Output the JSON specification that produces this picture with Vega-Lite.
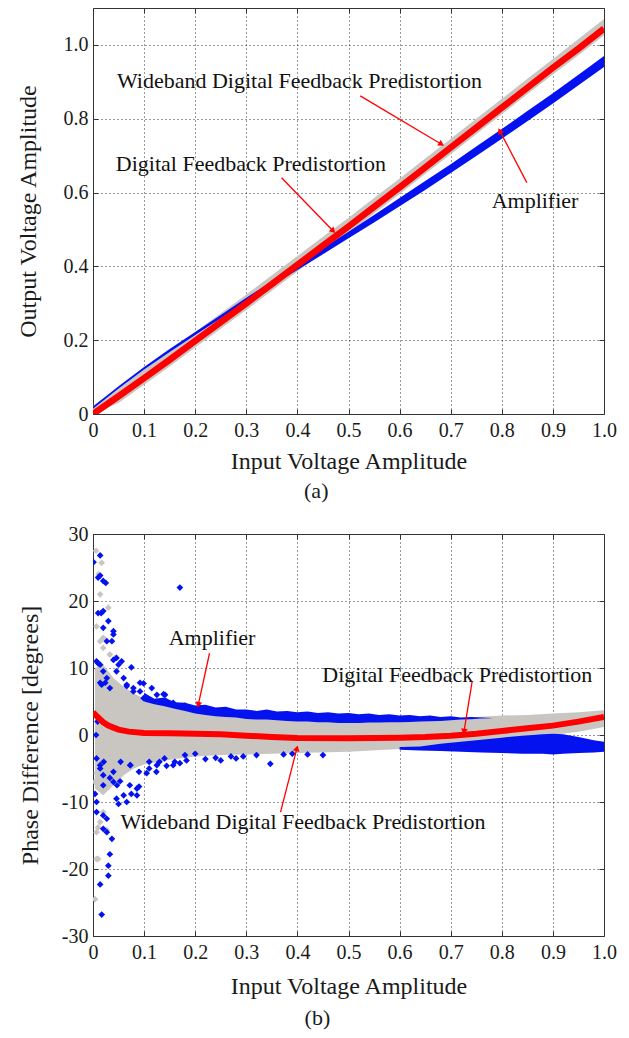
{
  "$schema": "https://vega.github.io/schema/vega-lite/v6.json",
  "padding": {"left": 15, "top": 7, "right": 10, "bottom": 5},
  "background": "white",
  "config": {
    "font": "Liberation Serif",
    "view": {"stroke": "#333333", "strokeWidth": 1},
    "axis": {
      "domain": false, "grid": true, "gridColor": "#333333", "gridDash": [1, 3], "gridWidth": 1,
      "ticks": true, "tickColor": "#333333", "tickSize": -5, "labelFlush": false, "labelOverlap": false,
      "labelFont": "Liberation Serif", "labelFontSize": 20, "labelColor": "#1a1a1a", "labelPadding": 10,
      "titleFont": "Liberation Serif", "titleFontSize": 24, "titleFontWeight": "normal", "titleColor": "#1a1a1a"
    },
    "axisX": {"labelPadding": 11},
    "title": {"font": "Liberation Serif", "fontSize": 22, "fontWeight": "normal", "color": "#1a1a1a", "orient": "bottom", "frame": "bounds", "anchor": "middle", "offset": 8}
  },
  "datasets": {
    "topGray": [
      {"x": 0, "lo": 0, "hi": 0.022}, {"x": 0.05, "lo": 0.03, "hi": 0.072}, {"x": 0.1, "lo": 0.079, "hi": 0.121},
      {"x": 0.15, "lo": 0.129, "hi": 0.171}, {"x": 0.2, "lo": 0.18, "hi": 0.222}, {"x": 0.25, "lo": 0.231, "hi": 0.273},
      {"x": 0.3, "lo": 0.282, "hi": 0.324}, {"x": 0.35, "lo": 0.334, "hi": 0.376}, {"x": 0.4, "lo": 0.386, "hi": 0.428},
      {"x": 0.45, "lo": 0.438, "hi": 0.48}, {"x": 0.5, "lo": 0.49, "hi": 0.532}, {"x": 0.55, "lo": 0.543, "hi": 0.585},
      {"x": 0.6, "lo": 0.596, "hi": 0.638}, {"x": 0.65, "lo": 0.65, "hi": 0.692}, {"x": 0.7, "lo": 0.704, "hi": 0.746},
      {"x": 0.75, "lo": 0.758, "hi": 0.8}, {"x": 0.8, "lo": 0.812, "hi": 0.854}, {"x": 0.85, "lo": 0.866, "hi": 0.908},
      {"x": 0.9, "lo": 0.92, "hi": 0.962}, {"x": 0.95, "lo": 0.972, "hi": 1.016}, {"x": 1.0, "lo": 1.026, "hi": 1.07}
    ],
    "topBlue": [
      {"x": 0, "lo": 0.014, "hi": 0.02}, {"x": 0.05, "lo": 0.069, "hi": 0.075}, {"x": 0.1, "lo": 0.1205, "hi": 0.1275},
      {"x": 0.15, "lo": 0.168, "hi": 0.176}, {"x": 0.2, "lo": 0.214, "hi": 0.222}, {"x": 0.25, "lo": 0.2595, "hi": 0.2685},
      {"x": 0.3, "lo": 0.305, "hi": 0.315}, {"x": 0.35, "lo": 0.348, "hi": 0.36}, {"x": 0.4, "lo": 0.39, "hi": 0.404},
      {"x": 0.45, "lo": 0.433, "hi": 0.449}, {"x": 0.5, "lo": 0.476, "hi": 0.494}, {"x": 0.55, "lo": 0.519, "hi": 0.539},
      {"x": 0.6, "lo": 0.563, "hi": 0.585}, {"x": 0.65, "lo": 0.607, "hi": 0.631}, {"x": 0.7, "lo": 0.653, "hi": 0.677},
      {"x": 0.75, "lo": 0.699, "hi": 0.725}, {"x": 0.8, "lo": 0.746, "hi": 0.772}, {"x": 0.85, "lo": 0.793, "hi": 0.821},
      {"x": 0.9, "lo": 0.841, "hi": 0.869}, {"x": 0.95, "lo": 0.891, "hi": 0.919}, {"x": 1.0, "lo": 0.94, "hi": 0.97}
    ],
    "topRed": [
      {"x": 0, "y": 0.0}, {"x": 0.05, "y": 0.048}, {"x": 0.1, "y": 0.097}, {"x": 0.15, "y": 0.147}, {"x": 0.2, "y": 0.198},
      {"x": 0.25, "y": 0.249}, {"x": 0.3, "y": 0.3}, {"x": 0.35, "y": 0.352}, {"x": 0.4, "y": 0.404}, {"x": 0.45, "y": 0.456},
      {"x": 0.5, "y": 0.508}, {"x": 0.55, "y": 0.561}, {"x": 0.6, "y": 0.614}, {"x": 0.65, "y": 0.668}, {"x": 0.7, "y": 0.722},
      {"x": 0.75, "y": 0.776}, {"x": 0.8, "y": 0.83}, {"x": 0.85, "y": 0.884}, {"x": 0.9, "y": 0.938}, {"x": 0.95, "y": 0.99},
      {"x": 1.0, "y": 1.044}
    ],
    "botGray": [
      {"x": 0.004, "lo": -8, "hi": 10}, {"x": 0.02, "lo": -9, "hi": 10.5}, {"x": 0.04, "lo": -7.5, "hi": 8.5},
      {"x": 0.06, "lo": -6, "hi": 7.2}, {"x": 0.08, "lo": -5, "hi": 6.2}, {"x": 0.1, "lo": -4.4, "hi": 5.4},
      {"x": 0.13, "lo": -4.0, "hi": 4.7}, {"x": 0.16, "lo": -3.6, "hi": 4.2}, {"x": 0.2, "lo": -3.2, "hi": 3.5},
      {"x": 0.25, "lo": -3.0, "hi": 3.0}, {"x": 0.3, "lo": -2.9, "hi": 2.7}, {"x": 0.4, "lo": -2.7, "hi": 2.3},
      {"x": 0.5, "lo": -2.5, "hi": 2.1}, {"x": 0.6, "lo": -2.1, "hi": 2.2}, {"x": 0.65, "lo": -1.9, "hi": 2.3},
      {"x": 0.7, "lo": -1.6, "hi": 2.5}, {"x": 0.75, "lo": -1.2, "hi": 2.7}, {"x": 0.8, "lo": -0.9, "hi": 2.9},
      {"x": 0.85, "lo": -0.5, "hi": 3.0}, {"x": 0.9, "lo": 0.0, "hi": 3.2}, {"x": 0.95, "lo": 0.5, "hi": 3.4},
      {"x": 1.0, "lo": 1.2, "hi": 3.7}
    ],
    "botGrayPts": [
      {"x": 0.006, "y": 27.5}, {"x": 0.017, "y": 25.7}, {"x": 0.011, "y": 24}, {"x": 0.014, "y": 21}, {"x": 0.03, "y": 19},
      {"x": 0.007, "y": 16.2}, {"x": 0.014, "y": 14}, {"x": 0.02, "y": 13}, {"x": 0.033, "y": 12}, {"x": 0.043, "y": 11.5},
      {"x": 0.02, "y": 14.5}, {"x": 0.01, "y": -13.8}, {"x": 0.007, "y": -14.5}, {"x": 0.007, "y": -18.5},
      {"x": 0.004, "y": -24.5}, {"x": 0.014, "y": -13}, {"x": 0.02, "y": -11.5}, {"x": 0.004, "y": -7}, {"x": 0.007, "y": -5.7},
      {"x": 0.027, "y": -14.2}, {"x": 0.01, "y": -18.5}
    ],
    "botBlueUp": [
      {"x": 0.1, "lo": 5.0, "hi": 6.3}, {"x": 0.12, "lo": 4.6, "hi": 5.4}, {"x": 0.14, "lo": 4.3, "hi": 5.6},
      {"x": 0.16, "lo": 3.9, "hi": 4.9}, {"x": 0.18, "lo": 3.6, "hi": 4.8}, {"x": 0.2, "lo": 3.2, "hi": 4.4},
      {"x": 0.22, "lo": 3.0, "hi": 4.5}, {"x": 0.24, "lo": 2.8, "hi": 4.1}, {"x": 0.26, "lo": 2.7, "hi": 4.2},
      {"x": 0.28, "lo": 2.6, "hi": 3.8}, {"x": 0.3, "lo": 2.4, "hi": 3.8}, {"x": 0.32, "lo": 2.3, "hi": 3.6},
      {"x": 0.34, "lo": 2.3, "hi": 3.8}, {"x": 0.36, "lo": 2.2, "hi": 3.5}, {"x": 0.38, "lo": 2.1, "hi": 3.6},
      {"x": 0.4, "lo": 2.0, "hi": 3.4}, {"x": 0.42, "lo": 2.0, "hi": 3.5}, {"x": 0.44, "lo": 1.9, "hi": 3.3},
      {"x": 0.46, "lo": 1.9, "hi": 3.4}, {"x": 0.48, "lo": 1.8, "hi": 3.2}, {"x": 0.5, "lo": 1.8, "hi": 3.3},
      {"x": 0.52, "lo": 1.8, "hi": 3.1}, {"x": 0.54, "lo": 1.85, "hi": 3.2}, {"x": 0.56, "lo": 1.85, "hi": 3.0},
      {"x": 0.58, "lo": 1.9, "hi": 3.1}, {"x": 0.6, "lo": 1.9, "hi": 2.9}, {"x": 0.62, "lo": 1.95, "hi": 3.0},
      {"x": 0.64, "lo": 2.0, "hi": 2.8}, {"x": 0.66, "lo": 2.05, "hi": 2.9}, {"x": 0.68, "lo": 2.1, "hi": 2.7},
      {"x": 0.7, "lo": 2.2, "hi": 2.8}, {"x": 0.72, "lo": 2.3, "hi": 2.6}, {"x": 0.74, "lo": 2.35, "hi": 2.7},
      {"x": 0.76, "lo": 2.45, "hi": 2.6}, {"x": 0.78, "lo": 2.5, "hi": 2.55}
    ],
    "botBlueLow": [
      {"x": 0.6, "lo": -2.2, "hi": -1.8}, {"x": 0.64, "lo": -2.3, "hi": -1.7}, {"x": 0.68, "lo": -2.4, "hi": -1.3},
      {"x": 0.72, "lo": -2.5, "hi": -1.0}, {"x": 0.76, "lo": -2.6, "hi": -0.7}, {"x": 0.8, "lo": -2.7, "hi": -0.4},
      {"x": 0.84, "lo": -2.8, "hi": -0.1}, {"x": 0.88, "lo": -2.8, "hi": 0.1}, {"x": 0.9, "lo": -2.9, "hi": 0.2},
      {"x": 0.92, "lo": -2.8, "hi": 0.1}, {"x": 0.95, "lo": -2.7, "hi": -0.3}, {"x": 0.98, "lo": -2.6, "hi": -0.8},
      {"x": 1.0, "lo": -2.5, "hi": -1.0}
    ],
    "botBluePts": [
      {"x": 0.001, "y": 25.8}, {"x": 0.014, "y": 26.8}, {"x": 0.01, "y": 23.5}, {"x": 0.014, "y": 23.8}, {"x": 0.02, "y": 23.0},
      {"x": 0.025, "y": 22.7}, {"x": 0.01, "y": 18.2}, {"x": 0.016, "y": 18.2}, {"x": 0.02, "y": 18.5}, {"x": 0.03, "y": 17.0},
      {"x": 0.02, "y": 16.0}, {"x": 0.04, "y": 15.5}, {"x": 0.04, "y": 15.0}, {"x": 0.037, "y": 14.0}, {"x": 0.027, "y": 14.0},
      {"x": 0.007, "y": 11.0}, {"x": 0.01, "y": 10.7}, {"x": 0.014, "y": 10.5}, {"x": 0.02, "y": 9.5}, {"x": 0.027, "y": 8.5},
      {"x": 0.017, "y": 7.5}, {"x": 0.04, "y": 11.2}, {"x": 0.046, "y": 11.5}, {"x": 0.056, "y": 11.0}, {"x": 0.05, "y": 10.5},
      {"x": 0.075, "y": 10.1}, {"x": 0.046, "y": 9.5}, {"x": 0.06, "y": 8.5}, {"x": 0.066, "y": 7.5}, {"x": 0.079, "y": 7.0},
      {"x": 0.092, "y": 6.5}, {"x": 0.099, "y": 7.7}, {"x": 0.092, "y": 7.8}, {"x": 0.115, "y": 7.0}, {"x": 0.125, "y": 6.0},
      {"x": 0.141, "y": 6.0}, {"x": 0.144, "y": 5.0}, {"x": 0.138, "y": 6.1}, {"x": 0.17, "y": 22.0}, {"x": 0.014, "y": 7.8},
      {"x": 0.024, "y": 7.8}, {"x": 0.033, "y": 7.0}, {"x": 0.066, "y": 7.3}, {"x": 0.079, "y": 6.5}, {"x": 0.099, "y": 5.5},
      {"x": 0.157, "y": 4.8}, {"x": 0.18, "y": 4.4}, {"x": 0.21, "y": 4.0}, {"x": 0.235, "y": 3.6},
      {"x": 0.006, "y": 0.0}, {"x": 0.009, "y": 2.0},
      {"x": 0.007, "y": -3.5}, {"x": 0.014, "y": -4.5}, {"x": 0.021, "y": -4.0}, {"x": 0.04, "y": -5.5}, {"x": 0.054, "y": -4.0},
      {"x": 0.073, "y": -4.5}, {"x": 0.09, "y": -5.5}, {"x": 0.11, "y": -4.0}, {"x": 0.125, "y": -4.5}, {"x": 0.14, "y": -3.5},
      {"x": 0.16, "y": -4.0}, {"x": 0.18, "y": -3.0}, {"x": 0.2, "y": -2.8}, {"x": 0.22, "y": -3.6}, {"x": 0.24, "y": -3.4},
      {"x": 0.25, "y": -3.8}, {"x": 0.27, "y": -3.2}, {"x": 0.28, "y": -3.5}, {"x": 0.294, "y": -3.2}, {"x": 0.32, "y": -3.0},
      {"x": 0.347, "y": -4.3}, {"x": 0.373, "y": -2.9}, {"x": 0.39, "y": -2.8}, {"x": 0.42, "y": -2.9}, {"x": 0.45, "y": -3.0},
      {"x": 0.004, "y": -8.8}, {"x": 0.014, "y": -5.0}, {"x": 0.02, "y": -6.0}, {"x": 0.04, "y": -7.0}, {"x": 0.047, "y": -7.5},
      {"x": 0.06, "y": -9.0}, {"x": 0.075, "y": -8.8}, {"x": 0.086, "y": -9.0}, {"x": 0.09, "y": -7.7}, {"x": 0.066, "y": -10.0},
      {"x": 0.046, "y": -9.5}, {"x": 0.05, "y": -10.3}, {"x": 0.033, "y": -6.4}, {"x": 0.053, "y": -6.9}, {"x": 0.072, "y": -7.5},
      {"x": 0.086, "y": -8.0}, {"x": 0.105, "y": -5.7}, {"x": 0.124, "y": -5.5}, {"x": 0.144, "y": -4.6}, {"x": 0.157, "y": -4.5},
      {"x": 0.17, "y": -4.2}, {"x": 0.183, "y": -3.8}, {"x": 0.073, "y": -4.5}, {"x": 0.11, "y": -5.0}, {"x": 0.13, "y": -4.0},
      {"x": 0.007, "y": -11.5}, {"x": 0.02, "y": -12.0}, {"x": 0.02, "y": -14.0}, {"x": 0.027, "y": -12.5}, {"x": 0.027, "y": -14.5},
      {"x": 0.037, "y": -15.5}, {"x": 0.033, "y": -17.8}, {"x": 0.03, "y": -19.5}, {"x": 0.03, "y": -21.0}, {"x": 0.014, "y": -22.3},
      {"x": 0.017, "y": -26.8}, {"x": 0.007, "y": -10.0}, {"x": 0.02, "y": -7.5}
    ],
    "botRed": [
      {"x": 0, "y": 3.4}, {"x": 0.01, "y": 2.6}, {"x": 0.02, "y": 1.9}, {"x": 0.03, "y": 1.4}, {"x": 0.04, "y": 1.1},
      {"x": 0.05, "y": 0.8}, {"x": 0.07, "y": 0.5}, {"x": 0.1, "y": 0.3}, {"x": 0.15, "y": 0.25}, {"x": 0.2, "y": 0.2},
      {"x": 0.25, "y": 0.1}, {"x": 0.3, "y": -0.1}, {"x": 0.35, "y": -0.3}, {"x": 0.4, "y": -0.45}, {"x": 0.5, "y": -0.5},
      {"x": 0.6, "y": -0.4}, {"x": 0.65, "y": -0.3}, {"x": 0.7, "y": -0.1}, {"x": 0.75, "y": 0.2}, {"x": 0.8, "y": 0.6},
      {"x": 0.85, "y": 1.0}, {"x": 0.9, "y": 1.4}, {"x": 0.95, "y": 2.0}, {"x": 1.0, "y": 2.7}
    ],
    "labels": [
      {"panel": "a", "text": "Wideband Digital Feedback Predistortion", "x": 0.404, "y": 0.902},
      {"panel": "a", "text": "Digital Feedback Predistortion", "x": 0.309, "y": 0.678},
      {"panel": "a", "text": "Amplifier", "x": 0.865, "y": 0.577},
      {"panel": "b", "text": "Amplifier", "x": 0.233, "y": 14.5},
      {"panel": "b", "text": "Digital Feedback Predistortion", "x": 0.713, "y": 9.0},
      {"panel": "b", "text": "Wideband Digital Feedback Predistortion", "x": 0.411, "y": -13.0}
    ],
    "arrows": [
      {"panel": "a", "id": "a1", "x": 0.523, "y": 0.862, "x2": 0.682, "y2": 0.731},
      {"panel": "a", "id": "a2", "x": 0.369, "y": 0.64, "x2": 0.47, "y2": 0.496},
      {"panel": "a", "id": "a3", "x": 0.849, "y": 0.627, "x2": 0.796, "y2": 0.767},
      {"panel": "b", "id": "b1", "x": 0.228, "y": 12.2, "x2": 0.206, "y2": 4.5},
      {"panel": "b", "id": "b2", "x": 0.742, "y": 8.0, "x2": 0.726, "y2": 0.5},
      {"panel": "b", "id": "b3", "x": 0.367, "y": -11.5, "x2": 0.399, "y2": -2.0}
    ]
  },
  "vconcat": [
    {
      "width": 511, "height": 406,
      "title": {"text": "(a)"},
      "resolve": {"axis": {"x": "independent", "y": "independent"}},
      "layer": [
        {
          "data": {"name": "topGray"},
          "mark": {"type": "area", "color": "#c9c6c2", "clip": true},
          "encoding": {
            "x": {"field": "x", "type": "quantitative", "scale": {"domain": [0, 1], "nice": false, "zero": false},
                  "axis": {"title": "Input Voltage Amplitude", "values": [0, 0.1, 0.2, 0.3, 0.4, 0.5, 0.6, 0.7, 0.8, 0.9, 1.0],
                           "labelExpr": "datum.value == 0 ? '0' : format(datum.value, '.1f')", "titlePadding": 9}},
            "y": {"field": "hi", "type": "quantitative", "scale": {"domain": [0, 1.1], "nice": false, "zero": false},
                  "axis": {"title": "Output Voltage Amplitude", "values": [0, 0.2, 0.4, 0.6, 0.8, 1.0],
                           "labelExpr": "datum.value == 0 ? '0' : format(datum.value, '.1f')", "titlePadding": 23}},
            "y2": {"field": "lo"}
          }
        },
        {
          "data": {"name": "topBlue"},
          "mark": {"type": "area", "color": "#0512f0", "clip": true},
          "encoding": {
            "x": {"field": "x", "type": "quantitative",
                  "axis": {"orient": "top", "labels": false, "grid": false, "title": null, "values": [0.1, 0.2, 0.3, 0.4, 0.5, 0.6, 0.7, 0.8, 0.9]}},
            "y": {"field": "hi", "type": "quantitative",
                  "axis": {"orient": "right", "labels": false, "grid": false, "title": null, "values": [0.2, 0.4, 0.6, 0.8, 1.0]}},
            "y2": {"field": "lo"}
          }
        },
        {
          "data": {"name": "topRed"},
          "mark": {"type": "line", "color": "#ff0000", "strokeWidth": 6.5, "clip": true},
          "encoding": {
            "x": {"field": "x", "type": "quantitative", "axis": null},
            "y": {"field": "y", "type": "quantitative", "axis": null}
          }
        },
        {
          "data": {"name": "labels"},
          "transform": [{"filter": "datum.panel == 'a'"}],
          "mark": {"type": "text", "font": "Liberation Serif", "fontSize": 22, "color": "#111111", "align": "center", "baseline": "middle"},
          "encoding": {
            "x": {"field": "x", "type": "quantitative", "axis": null},
            "y": {"field": "y", "type": "quantitative", "axis": null},
            "text": {"field": "text"}
          }
        },
        {
          "data": {"name": "arrows"},
          "transform": [{"filter": "datum.panel == 'a'"}],
          "mark": {"type": "rule", "color": "#ff0000", "strokeWidth": 1.3},
          "encoding": {
            "x": {"field": "x", "type": "quantitative", "axis": null},
            "y": {"field": "y", "type": "quantitative", "axis": null},
            "x2": {"field": "x2"}, "y2": {"field": "y2"}
          }
        },
        {
          "data": {"name": "arrows"},
          "transform": [{"filter": "datum.id == 'a1'"}],
          "mark": {"type": "point", "shape": "triangle-up", "filled": true, "color": "#ff0000", "opacity": 1, "size": 45, "angle": 120.6},
          "encoding": {"x": {"field": "x2", "type": "quantitative", "axis": null}, "y": {"field": "y2", "type": "quantitative", "axis": null}}
        },
        {
          "data": {"name": "arrows"},
          "transform": [{"filter": "datum.id == 'a2'"}],
          "mark": {"type": "point", "shape": "triangle-up", "filled": true, "color": "#ff0000", "opacity": 1, "size": 45, "angle": 135.9},
          "encoding": {"x": {"field": "x2", "type": "quantitative", "axis": null}, "y": {"field": "y2", "type": "quantitative", "axis": null}}
        },
        {
          "data": {"name": "arrows"},
          "transform": [{"filter": "datum.id == 'a3'"}],
          "mark": {"type": "point", "shape": "triangle-up", "filled": true, "color": "#ff0000", "opacity": 1, "size": 45, "angle": 332.7},
          "encoding": {"x": {"field": "x2", "type": "quantitative", "axis": null}, "y": {"field": "y2", "type": "quantitative", "axis": null}}
        }
      ]
    },
    {
      "width": 511, "height": 402,
      "title": {"text": "(b)", "offset": 10},
      "resolve": {"axis": {"x": "independent", "y": "independent"}},
      "layer": [
        {
          "data": {"name": "botGray"},
          "mark": {"type": "area", "color": "#c9c6c2", "clip": true},
          "encoding": {
            "x": {"field": "x", "type": "quantitative", "scale": {"domain": [0, 1], "nice": false, "zero": false},
                  "axis": {"title": "Input Voltage Amplitude", "values": [0, 0.1, 0.2, 0.3, 0.4, 0.5, 0.6, 0.7, 0.8, 0.9, 1.0],
                           "labelExpr": "datum.value == 0 ? '0' : format(datum.value, '.1f')", "titlePadding": 12}},
            "y": {"field": "hi", "type": "quantitative", "scale": {"domain": [-30, 30], "nice": false, "zero": false},
                  "axis": {"title": "Phase Difference [degrees]", "values": [-30, -20, -10, 0, 10, 20, 30], "labelExpr": "'' + datum.value", "titlePadding": 19}},
            "y2": {"field": "lo"}
          }
        },
        {
          "data": {"name": "botGrayPts"},
          "mark": {"type": "point", "shape": "diamond", "filled": true, "color": "#c9c6c2", "opacity": 1, "size": 45, "clip": true},
          "encoding": {
            "x": {"field": "x", "type": "quantitative",
                  "axis": {"orient": "top", "labels": false, "grid": false, "title": null, "values": [0.1, 0.2, 0.3, 0.4, 0.5, 0.6, 0.7, 0.8, 0.9]}},
            "y": {"field": "y", "type": "quantitative",
                  "axis": {"orient": "right", "labels": false, "grid": false, "title": null, "values": [-20, -10, 0, 10, 20]}}
          }
        },
        {
          "data": {"name": "botBlueUp"},
          "mark": {"type": "area", "color": "#0512f0", "clip": true},
          "encoding": {
            "x": {"field": "x", "type": "quantitative", "axis": null},
            "y": {"field": "hi", "type": "quantitative", "axis": null},
            "y2": {"field": "lo"}
          }
        },
        {
          "data": {"name": "botBlueLow"},
          "mark": {"type": "area", "color": "#0512f0", "clip": true},
          "encoding": {
            "x": {"field": "x", "type": "quantitative", "axis": null},
            "y": {"field": "hi", "type": "quantitative", "axis": null},
            "y2": {"field": "lo"}
          }
        },
        {
          "data": {"name": "botBluePts"},
          "mark": {"type": "point", "shape": "diamond", "filled": true, "color": "#0512f0", "opacity": 1, "size": 45, "clip": true},
          "encoding": {
            "x": {"field": "x", "type": "quantitative", "axis": null},
            "y": {"field": "y", "type": "quantitative", "axis": null}
          }
        },
        {
          "data": {"name": "botRed"},
          "mark": {"type": "line", "color": "#ff0000", "strokeWidth": 6, "clip": true},
          "encoding": {
            "x": {"field": "x", "type": "quantitative", "axis": null},
            "y": {"field": "y", "type": "quantitative", "axis": null}
          }
        },
        {
          "data": {"name": "labels"},
          "transform": [{"filter": "datum.panel == 'b'"}],
          "mark": {"type": "text", "font": "Liberation Serif", "fontSize": 22, "color": "#111111", "align": "center", "baseline": "middle"},
          "encoding": {
            "x": {"field": "x", "type": "quantitative", "axis": null},
            "y": {"field": "y", "type": "quantitative", "axis": null},
            "text": {"field": "text"}
          }
        },
        {
          "data": {"name": "arrows"},
          "transform": [{"filter": "datum.panel == 'b'"}],
          "mark": {"type": "rule", "color": "#ff0000", "strokeWidth": 1.3},
          "encoding": {
            "x": {"field": "x", "type": "quantitative", "axis": null},
            "y": {"field": "y", "type": "quantitative", "axis": null},
            "x2": {"field": "x2"}, "y2": {"field": "y2"}
          }
        },
        {
          "data": {"name": "arrows"},
          "transform": [{"filter": "datum.id == 'b1'"}],
          "mark": {"type": "point", "shape": "triangle-up", "filled": true, "color": "#ff0000", "opacity": 1, "size": 45, "angle": 192},
          "encoding": {"x": {"field": "x2", "type": "quantitative", "axis": null}, "y": {"field": "y2", "type": "quantitative", "axis": null}}
        },
        {
          "data": {"name": "arrows"},
          "transform": [{"filter": "datum.id == 'b2'"}],
          "mark": {"type": "point", "shape": "triangle-up", "filled": true, "color": "#ff0000", "opacity": 1, "size": 45, "angle": 189.5},
          "encoding": {"x": {"field": "x2", "type": "quantitative", "axis": null}, "y": {"field": "y2", "type": "quantitative", "axis": null}}
        },
        {
          "data": {"name": "arrows"},
          "transform": [{"filter": "datum.id == 'b3'"}],
          "mark": {"type": "point", "shape": "triangle-up", "filled": true, "color": "#ff0000", "opacity": 1, "size": 45, "angle": 14.8},
          "encoding": {"x": {"field": "x2", "type": "quantitative", "axis": null}, "y": {"field": "y2", "type": "quantitative", "axis": null}}
        }
      ]
    }
  ],
  "spacing": 120,
  "bounds": "flush"
}
